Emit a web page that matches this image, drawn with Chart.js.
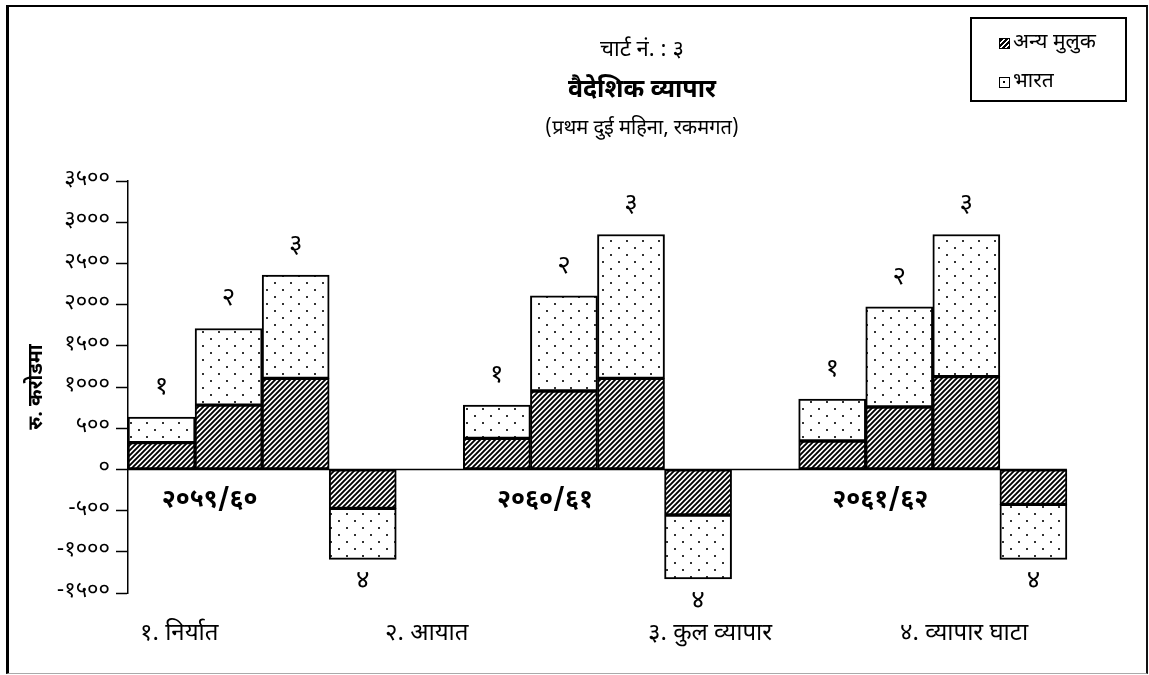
<!DOCTYPE html>
<html>
<head>
<meta charset="utf-8">
<script src="https://cdn.jsdelivr.net/npm/chart.js@4"></script>
<style>
  body { margin: 0; background: #fff; font-family: "Noto Sans Devanagari", "Lohit Devanagari", "Noto Sans", sans-serif; }
  #wrap { position: relative; width: 1149px; height: 675px; overflow: hidden; }
  #frame { position: absolute; left: 6px; top: 5px; width: 1142px; height: 669px; box-sizing: border-box;
    border-left: 3px solid #000; border-top: 2px solid #000; border-right: 2px solid #111; border-bottom: 1px solid #aaa; }
  .txt { position: absolute; color: #000; white-space: nowrap; line-height: 1; }
  #legend { position: absolute; left: 970px; top: 17px; width: 157px; height: 85px; box-sizing: border-box; border: 2px solid #000; }
  .sw { position: absolute; width: 11px; height: 11px; box-sizing: border-box; border: 1px solid #000; }
</style>
</head>
<body>
<div id="wrap">
  <canvas id="chart"></canvas>
  <div id="frame"></div>
  <div class="txt" style="left:442px;width:400px;text-align:center;top:40px;font-size:22px;">चार्ट नं. : ३</div>
  <div class="txt" style="left:442px;width:400px;text-align:center;top:79px;font-size:25px;font-weight:bold;">वैदेशिक व्यापार</div>
  <div class="txt" style="left:442px;width:400px;text-align:center;top:119px;font-size:20px;">(प्रथम दुई महिना, रकमगत)</div>
  <div id="legend">
    <div class="sw" style="left:27px;top:19px;background:repeating-linear-gradient(-45deg,#000 0 2px,#fff 2px 3.5px);"></div>
    <div class="txt" style="left:41px;top:14px;font-size:21px;" id="lg0"></div>
    <div class="sw" style="left:27px;top:58px;background:#fff radial-gradient(circle,#000 1px,transparent 1.5px) 0 0/8px 8px;"></div>
    <div class="txt" style="left:41px;top:53px;font-size:21px;" id="lg1"></div>
  </div>
  <div id="captions"></div>
</div>
<script>
// financial years (categories)
const years = ['२०५९/६०', '२०६०/६१', '२०६१/६२'];
const seriesNames = ['अन्य मुलुक', 'भारत'];
const measures = ['१. निर्यात', '२. आयात', '३. कुल व्यापार', '४. व्यापार घाटा'];
const barNumbers = ['१', '२', '३', '४'];

// values in Rs. crore
const otherExport = [324, 376, 345];
const indiaExport = [312, 405, 509];
const otherImport = [781, 951, 757];
const indiaImport = [929, 1156, 1217];
const otherTotal = [1104, 1104, 1125];
const indiaTotal = [1254, 1747, 1726];
const otherDeficit = [-473, -553, -425];
const indiaDeficit = [-619, -777, -667];

// y axis ticks
const yTickValues = [-1500, -1000, -500, 0, 500, 1000, 1500, 2000, 2500, 3000, 3500];
const yTickLabels = ['-१५००', '-१०००', '-५००', '०', '५००', '१०००', '१५००', '२०००', '२५००', '३०००', '३५००'];

const captionX = [140, 385, 648, 900];
const FONT = '"Noto Sans Devanagari", "Lohit Devanagari", "Noto Sans", sans-serif';

document.getElementById('lg0').textContent = seriesNames[0];
document.getElementById('lg1').textContent = seriesNames[1];
const cap = document.getElementById('captions');
measures.forEach((m, i) => {
  const d = document.createElement('div');
  d.className = 'txt';
  d.style.left = captionX[i] + 'px';
  d.style.top = '622px';
  d.style.fontSize = '24px';
  d.textContent = m;
  cap.appendChild(d);
});

const ctx = document.getElementById('chart').getContext('2d');

function makeHatch() {
  const s = 5;
  const c = document.createElement('canvas');
  c.width = s; c.height = s;
  const g = c.getContext('2d');
  g.fillStyle = '#fff';
  g.fillRect(0, 0, s, s);
  g.strokeStyle = '#000';
  g.lineWidth = 1.9;
  g.beginPath();
  for (let k = -1; k <= 1; k++) {
    g.moveTo(k * s - 1, s + 1);
    g.lineTo(k * s + s + 1, -1);
  }
  g.stroke();
  return ctx.createPattern(c, 'repeat');
}

function makeDots() {
  const c = document.createElement('canvas');
  c.width = 16; c.height = 14;
  const g = c.getContext('2d');
  g.fillStyle = '#fff';
  g.fillRect(0, 0, 16, 14);
  g.fillStyle = '#333';
  g.fillRect(2, 2, 2, 2);
  g.fillRect(10, 9, 2, 2);
  return ctx.createPattern(c, 'repeat');
}

const hatch = makeHatch();
const dots = makeDots();

const pairs = [
  [otherExport, indiaExport],
  [otherImport, indiaImport],
  [otherTotal, indiaTotal],
  [otherDeficit, indiaDeficit],
];

const datasets = [];
pairs.forEach((pair, s) => {
  datasets.push({ label: seriesNames[0], data: pair[0], stack: 's' + s, backgroundColor: hatch });
  datasets.push({ label: seriesNames[1], data: pair[1], stack: 's' + s, backgroundColor: dots });
});
// empty slot so each year's group leaves a gap on its right
datasets.push({ label: '', data: years.map(() => null), stack: 'gap', backgroundColor: 'transparent' });

const labelsPlugin = {
  id: 'barLabels',
  afterDatasetsDraw(chart) {
    const c = chart.ctx;
    const y0 = chart.scales.y.getPixelForValue(0);
    const last = chart.getDatasetMeta(7).data[years.length - 1];
    c.save();
    // zero line
    c.strokeStyle = '#000';
    c.lineWidth = 1.5;
    c.beginPath();
    c.moveTo(chart.chartArea.left, y0);
    c.lineTo(last.x + last.width / 2, y0);
    c.stroke();

    c.fillStyle = '#000';
    c.textAlign = 'center';
    c.textBaseline = 'middle';
    c.font = '26px ' + FONT;
    for (let s = 0; s < 4; s++) {
      const meta = chart.getDatasetMeta(s * 2 + 1);
      meta.data.forEach((el, i) => {
        const v = pairs[s][1][i];
        const y = v >= 0 ? el.y - 28 : el.y + 24;
        c.fillText(barNumbers[s], el.x, y);
      });
    }
    c.font = 'bold 25px ' + FONT;
    chart.getDatasetMeta(2).data.forEach((el, i) => {
      c.fillText(years[i], el.x - 19, y0 + 33);
    });
    c.restore();
  }
};

new Chart(ctx, {
  type: 'bar',
  data: { labels: years, datasets: datasets },
  options: {
    responsive: true,
    maintainAspectRatio: false,
    animation: false,
    datasets: {
      bar: {
        barPercentage: 1,
        categoryPercentage: 1,
        borderColor: '#000',
        borderWidth: 2,
        borderSkipped: false,
      },
    },
    layout: { padding: { left: 8, right: 15, top: 181, bottom: 82 } },
    plugins: {
      legend: { display: false },
      tooltip: { enabled: false },
    },
    scales: {
      x: { stacked: true, display: false },
      y: {
        stacked: true,
        min: -1500,
        max: 3500,
        afterFit: (scale) => { scale.width = 120; },
        border: { display: true, color: '#000', width: 1.5 },
        grid: { drawOnChartArea: false, tickLength: 12, tickColor: '#000', tickWidth: 1.5 },
        ticks: {
          stepSize: 500,
          padding: 6,
          color: '#000',
          font: { size: 22, family: FONT },
          callback: (v) => yTickLabels[yTickValues.indexOf(v)],
        },
        title: {
          display: true,
          text: 'रु. करोडमा',
          color: '#000',
          padding: { top: 18, bottom: 0 },
          font: { size: 20, weight: 'bold', family: FONT },
        },
      },
    },
  },
  plugins: [labelsPlugin],
});
</script>
</body>
</html>
